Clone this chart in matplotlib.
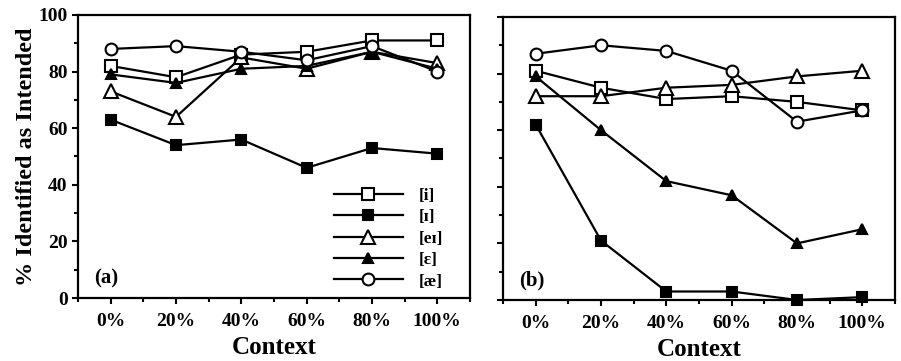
import matplotlib
matplotlib.use("Agg")
import matplotlib.pyplot as plt
from matplotlib.ticker import MultipleLocator

plt.rcParams['font.family'] = ['Liberation Serif', 'DejaVu Serif']
plt.rcParams['font.weight'] = 'bold'

contexts = [0, 20, 40, 60, 80, 100]
context_labels = ["0%", "20%", "40%", "60%", "80%", "100%"]
vowels = ["[i]", "[ɪ]", "[eɪ]", "[ɛ]", "[æ]"]

# panel (a)
a_i = [82, 78, 86, 87, 91, 91]
a_I = [63, 54, 56, 46, 53, 51]
a_eI = [73, 64, 85, 81, 87, 83]
a_E = [79, 76, 81, 82, 87, 81]
a_ae = [88, 89, 87, 84, 89, 80]

# panel (b)
b_i = [81, 75, 71, 72, 70, 67]
b_I = [62, 21, 3, 3, 0, 1]
b_eI = [72, 72, 75, 76, 79, 81]
b_E = [79, 60, 42, 37, 20, 25]
b_ae = [87, 90, 88, 81, 63, 67]

styles = [
    dict(marker='s', mfc='white', ms=8.5),
    dict(marker='s', mfc='black', ms=6.5),
    dict(marker='^', mfc='white', ms=9.5),
    dict(marker='^', mfc='black', ms=7),
    dict(marker='o', mfc='white', ms=8.5),
]

fig = plt.figure(figsize=(9.01, 3.61), dpi=100)
ax_a = fig.add_axes([0.0866, 0.1745, 0.435, 0.784])
ax_b = fig.add_axes([0.5583, 0.169, 0.435, 0.784])

panels = [
    (ax_a, [a_i, a_I, a_eI, a_E, a_ae], "(a)"),
    (ax_b, [b_i, b_I, b_eI, b_E, b_ae], "(b)"),
]

for ax, series, tag in panels:
    for vals, st, name in zip(series, styles, vowels):
        ax.plot(contexts, vals, color='black', lw=1.6, mec='black', mew=1.5,
                label=name, clip_on=False, **st)
    ax.set_xlim(-10, 110)
    ax.set_ylim(0, 100)
    ax.set_xticks(contexts)
    ax.set_xticklabels(context_labels)
    ax.xaxis.set_minor_locator(MultipleLocator(10))
    ax.yaxis.set_major_locator(MultipleLocator(20))
    ax.yaxis.set_minor_locator(MultipleLocator(10))
    ax.tick_params(which='both', direction='out', width=1.5, labelsize=14)
    ax.tick_params(which='major', length=4)
    ax.tick_params(which='minor', length=3)
    ax.tick_params(axis='x', which='major', pad=7)
    for sp in ax.spines.values():
        sp.set_linewidth(1.6)
    ax.set_xlabel("Context", fontsize=18, fontweight='bold', labelpad=4)
    ax.text(-5, 7, tag, fontsize=15, fontweight='bold', va='center', ha='left')

ax_b.tick_params(axis='y', labelleft=False)
ax_a.set_ylabel("% Identified as Intended", fontsize=17.5, fontweight='bold', labelpad=1)

ax_a.legend(loc='lower left', bbox_to_anchor=(0.652, 0.03), frameon=False,
            numpoints=1, handlelength=4.0, fontsize=12.5, labelspacing=0.3,
            handletextpad=0.9, borderaxespad=0, borderpad=0)

fig.savefig("out.png", dpi=100)
